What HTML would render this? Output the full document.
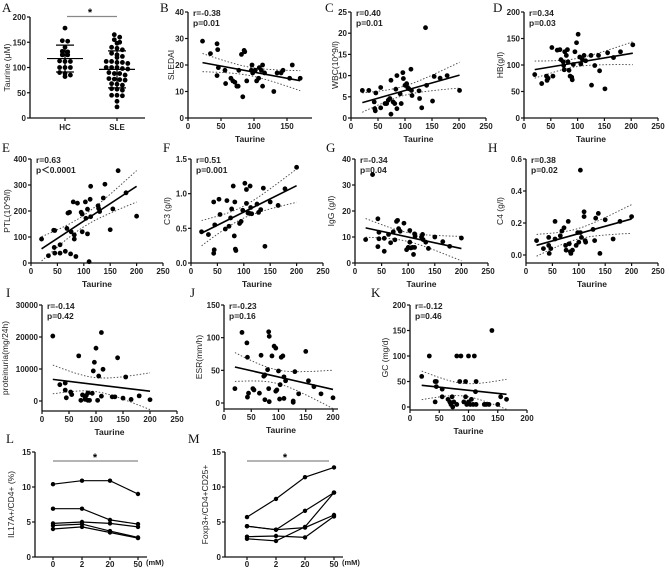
<!DOCTYPE html>
<html><head><meta charset="utf-8">
<style>
html,body{margin:0;padding:0;background:#fff;}
svg{display:block;font-family:"Liberation Sans",Arial,sans-serif;}
.tk{font-size:8px;font-weight:bold;fill:#222;}
.ti{font-size:8.5px;font-weight:bold;fill:#222;}
.yt{font-size:8.5px;fill:#222;}
.lt{font-family:"Liberation Serif",serif;font-size:13px;fill:#111;}
</style></head>
<body>
<svg id="fig" width="669" height="570" viewBox="0 0 669 570"></svg>
<script>
// ---------- data ----------
const hcValues=[178,153,152,140,132,131,125,125,113,112,112,100,100,100,90,88,85,82];
const sleValues=[165,160,155,150,148,140,138,135,128,125,122,120,112,112,110,110,108,100,100,100,98,97,90,88,88,85,78,77,76,75,68,67,65,58,57,55,45,45,44,33,22];
const bX=[22,34,44,45,46,44,56,57,65,68,71,74,76,77,81,85,86,83,89,96,97,98,102,104,107,108,111,113,116,113,130,135,141,144,158,154,170];
const bY=[29,24.3,28,25.8,19,16,18,13,15,14,13.5,12,12,18,24,25.5,25,8,14,18,20,17,18,14,15,19,18,20,17,12,10,17,17,18,20,15,15];
const cX=[21,33,43,44,45,46,55,55,63,66,69,72,74,74,78,81,83,85,85,91,93,96,97,100,103,105,107,111,112,113,126,127,131,138,140,151,154,165,178,201];
const cY=[6.5,6.5,3.8,2.2,1.7,5.9,7.2,2.4,3.4,3.4,4.2,4.6,8.9,0.9,3.8,3.4,6.8,10,2.2,5.7,3.4,10.7,9.3,7.7,8.1,7.2,6.9,11.5,6.5,5.3,6.4,4.6,2.4,21.3,7.7,4,9.8,9.4,10,6.5];
const dX=[20,33,42,43,45,52,54,62,67,69,73,74,75,76,79,81,82,84,86,89,90,92,95,98,101,104,106,109,112,115,125,126,132,139,141,151,156,167,180,203];
const dY=[82,65,79,71,75,133,79,128,129,110,106,99,91,125,118,129,106,90,79,77,72,101,125,142,158,115,102,110,118,108,118,62,99,118,89,55,123,114,125,138];
const eX=[20,33,43,45,44,45,55,55,65,68,70,73,75,76,80,82,82,85,88,95,97,97,103,104,107,107,110,112,113,113,127,128,130,137,140,150,155,165,180,200];
const eY=[92,28,126,125,60,38,70,38,45,133,192,195,35,120,235,108,92,25,230,195,188,120,235,172,112,207,5,245,295,178,220,210,198,250,303,128,208,355,270,180];
const fX=[20,33,43,43,44,45,53,55,65,68,72,75,77,80,82,83,84,85,92,95,98,102,105,105,108,110,112,113,115,125,128,132,137,140,150,165,178,200];
const fY=[0.45,0.41,0.88,0.14,0.19,0.55,0.92,0.7,0.49,0.9,0.53,0.65,0.78,1.11,0.39,0.88,0.2,0.18,0.57,0.6,0.76,1.15,1.06,0.86,0.72,0.72,1.11,0.8,0.71,0.85,0.73,0.77,1.08,0.24,0.88,0.83,1.07,1.38];
const gX=[20,33,43,43,45,45,55,55,63,67,72,75,78,80,82,85,92,97,100,103,103,105,108,110,112,112,113,125,127,128,133,138,150,165,178,200];
const gY=[9,34,6.3,17,9.3,11.8,9.5,4.5,11,7.8,12,8.9,16,16.4,13.2,12.2,15.3,5.1,6,12.5,8,5.8,6,3.3,11.2,6,10.3,10,11,9,8,5.6,10,8.2,6.4,9.6];
const hX=[20,33,43,43,44,47,55,55,65,68,72,75,76,80,82,84,85,88,95,98,100,103,103,105,110,110,112,113,127,130,132,137,140,150,165,178,200];
const hY=[0.09,0.04,0.11,0.06,0.01,0.04,0.21,0.1,0.12,0.15,0.17,0.06,0.03,0.21,0.07,0.02,0.01,0.03,0.06,0.14,0.08,0.53,0.14,0.11,0.27,0.24,0.09,0.08,0.16,0.09,0.23,0.26,0.01,0.22,0.1,0.21,0.24];
const iX=[20,33,43,43,45,53,55,68,72,75,80,80,82,85,85,88,93,95,97,100,103,105,110,110,113,130,135,140,150,155,165,180,200];
const iY=[20300,5100,5600,3400,1000,2800,2000,14100,200,1900,1200,500,1700,200,2500,200,2400,9400,12100,16500,200,7800,21400,1500,9900,1300,1300,13500,900,7500,500,1600,400];
const jX=[20,33,42,43,43,45,53,55,65,68,73,75,75,80,82,82,83,83,88,92,95,95,97,100,102,103,105,108,110,110,113,127,127,130,137,150,155,165,178,200];
const jY=[22,108,92,70,9,15,22,20,15,73,41,5,43,51,22,109,2,102,72,87,18,84,20,49,6,28,70,72,40,7,34,3,1,48,14,79,34,25,14,8];
const kX=[20,33,43,43,45,45,55,55,65,68,70,72,73,75,80,80,85,87,92,95,95,97,100,100,103,105,108,110,112,113,113,127,130,135,140,150,155,165];
const kY=[60,100,10,50,50,40,35,20,15,10,5,20,0,10,100,5,50,100,10,20,50,5,100,10,5,15,5,100,30,50,5,5,5,5,150,5,20,15];
const doseLabels=['0','2','20','50'];
const lSeries=[[10.4,10.9,10.9,9.0],[6.9,6.9,5.3,4.7],[4.8,5.0,4.8,4.3],[4.5,4.7,3.7,2.8],[4.0,4.3,3.5,2.7]];
const mSeries=[[5.7,8.3,11.4,12.8],[4.4,3.9,6.6,9.2],[4.4,3.9,4.2,6.0],[2.9,3.0,2.8,5.8],[2.6,2.3,4.3,9.2]];

// ---------- helpers ----------
const svg=document.getElementById('fig');
const NS='http://www.w3.org/2000/svg';
function mk(tag,attrs,parent,text){const e=document.createElementNS(NS,tag);for(const k in attrs)e.setAttribute(k,attrs[k]);if(text!==undefined)e.textContent=text;(parent||svg).appendChild(e);return e;}
function lin(d0,d1,r0,r1){return v=>r0+(v-d0)*(r1-r0)/(d1-d0);}

function axes(g,p){
  // y axis
  let e=mk('line',{x1:p.px0,y1:p.sy(p.ymax),x2:p.px0,y2:p.pyb,stroke:'#111','stroke-width':1.3},g);
  
  e=mk('line',{x1:p.px0,y1:p.pyb,x2:p.pxEnd,y2:p.pyb,stroke:'#111','stroke-width':1.3},g);
  
  p.yticks.forEach((t,i)=>{const y=p.sy(t);
    mk('line',{x1:p.px0-3,y1:y,x2:p.px0,y2:y,stroke:'#111','stroke-width':1.2},g);
    e=mk('text',{x:p.px0-4,y:y+3,'text-anchor':'end',class:'tk'},g,p.ylabels?p.ylabels[i]:String(t));
    });
  if(p.xticks)p.xticks.forEach(t=>{const x=p.sx(t);
    mk('line',{x1:x,y1:p.pyb,x2:x,y2:p.pyb+3,stroke:'#111','stroke-width':1.2},g);
    e=mk('text',{x:x,y:p.pyb+11,'text-anchor':'middle',class:'tk'},g,String(t));
    });
  const yc=(p.sy(p.ymax)+p.pyb)/2;
  e=mk('text',{x:p.ytx,y:yc,'text-anchor':'middle',class:'yt',transform:`rotate(-90 ${p.ytx} ${yc})`},g,p.ytitle);
  
}
function letter(t,x,y){const e=mk('text',{x:x,y:y,class:'lt'},svg,t);}

function scatter(p,xs,ys){
  const g=mk('g',{});
  p.sx=lin(0,p.xmax,p.px0,p.px1);p.sy=lin(0,p.ymax,p.py0,p.py1);
  axes(g,p);
  let e=mk('text',{x:(p.px0+p.pxEnd)/2,y:p.pyb+24,'text-anchor':'middle',class:'ti'},g,'Taurine');
  
  e=mk('text',{x:p.px0+5,y:p.sy(p.ymax)+4,class:'ti'},g,p.r);
  e=mk('text',{x:p.px0+5,y:p.sy(p.ymax)+14,class:'ti'},g,p.p);
  // regression
  const n=xs.length;let mx=0,my=0;for(let i=0;i<n;i++){mx+=xs[i];my+=ys[i];}mx/=n;my/=n;
  let sxx=0,sxy=0;for(let i=0;i<n;i++){sxx+=(xs[i]-mx)**2;sxy+=(xs[i]-mx)*(ys[i]-my);}
  const b=sxy/sxx,a=my-b*mx;let sse=0;for(let i=0;i<n;i++)sse+=(ys[i]-a-b*xs[i])**2;
  const s=Math.sqrt(sse/(n-2)),t=2.03;
  const xmin=Math.min(...xs),xmx=Math.max(...xs);
  let up=[],lo=[];
  for(let k=0;k<=30;k++){const x=xmin+(xmx-xmin)*k/30;const se=s*Math.sqrt(1/n+(x-mx)**2/sxx);const yh=a+b*x;
    up.push(p.sx(x).toFixed(1)+','+p.sy(yh+t*se).toFixed(1));lo.push(p.sx(x).toFixed(1)+','+p.sy(yh-t*se).toFixed(1));}
  const clip='c'+p.id;const cp=mk('clipPath',{id:clip},g);mk('rect',{x:p.px0,y:p.sy(p.ymax)-2,width:p.pxEnd-p.px0+4,height:p.pyb-p.sy(p.ymax)+2},cp);
  e=mk('polyline',{points:up.join(' '),fill:'none',stroke:'#444','stroke-width':0.9,'stroke-dasharray':'1.5,1.8','clip-path':`url(#${clip})`},g);
  
  e=mk('polyline',{points:lo.join(' '),fill:'none',stroke:'#444','stroke-width':0.9,'stroke-dasharray':'1.5,1.8','clip-path':`url(#${clip})`},g);
  
  for(let i=0;i<n;i++){e=mk('circle',{cx:p.sx(xs[i]),cy:p.sy(ys[i]),r:2.4,fill:'#000'},g);
    }
  e=mk('line',{x1:p.sx(xmin),y1:p.sy(a+b*xmin),x2:p.sx(xmx),y2:p.sy(a+b*xmx),stroke:'#000','stroke-width':1.6},g);
  
}

// ---------- panel A ----------
(function(){
  const g=mk('g',{});
  const p={px0:30,pxEnd:145,pyb:118,ymax:200,yticks:[0,50,100,150,200],ytx:10,ytitle:'Taurine (μM)'};
  p.sy=lin(0,200,118,17);
  axes(g,p);
  const groups=[['HC',hcValues,65],['SLE',sleValues,117]];
  groups.forEach(([name,vals,cx])=>{
    let e=mk('line',{x1:cx,y1:118,x2:cx,y2:121,stroke:'#111','stroke-width':1.2},g);
    e=mk('text',{x:cx,y:130,'text-anchor':'middle',class:'tk'},g,name);
    const sorted=[...vals].sort((a,b)=>b-a);const bins=[];
    sorted.forEach(v=>{const last=bins[bins.length-1];if(last&&last[0]-v<7)last.push(v);else bins.push([v]);});
    bins.forEach(bin=>{bin.forEach((v,i)=>{const off=(i-(bin.length-1)/2)*5.4;
      e=mk('circle',{cx:cx+off,cy:p.sy(v),r:2.4,fill:'#000'},g);});});
    const n=vals.length,m=vals.reduce((s,v)=>s+v,0)/n,sd=Math.sqrt(vals.reduce((s,v)=>s+(v-m)**2,0)/(n-1));
    e=mk('line',{x1:cx-18,y1:p.sy(m),x2:cx+18,y2:p.sy(m),stroke:'#000','stroke-width':1.2},g);
    e=mk('line',{x1:cx,y1:p.sy(m+sd),x2:cx,y2:p.sy(m-sd),stroke:'#000','stroke-width':1.2},g);
    mk('line',{x1:cx-9,y1:p.sy(m+sd),x2:cx+9,y2:p.sy(m+sd),stroke:'#000','stroke-width':1.2},g);
    mk('line',{x1:cx-9,y1:p.sy(m-sd),x2:cx+9,y2:p.sy(m-sd),stroke:'#000','stroke-width':1.2},g);
  });
  let e=mk('line',{x1:67,y1:16.5,x2:117,y2:16.5,stroke:'#888','stroke-width':1.2},g);
  e=mk('text',{x:90,y:16,'text-anchor':'middle',style:'font-size:11px;font-weight:bold'},g,'*');
})();

// ---------- scatter panels ----------
const y1=[12,118],y2=[159,263];
scatter({id:'b',px0:188,px1:287,xmax:150,pxEnd:312,py0:118,py1:12,pyb:118,ymax:40,xticks:[0,50,100,150],yticks:[0,10,20,30,40],ytx:174,ytitle:'SLEDAI',r:'r=-0.38',p:'p=0.01'},bX,bY);
scatter({id:'c',px0:351,px1:486,xmax:250,pxEnd:486,py0:118,py1:12,pyb:118,ymax:25,xticks:[0,50,100,150,200,250],yticks:[0,5,10,15,20,25],ytx:338,ytitle:'WBC(10^9/l)',r:'r=0.40',p:'p=0.01'},cX,cY);
scatter({id:'d',px0:524,px1:658,xmax:250,pxEnd:658,py0:118,py1:12,pyb:118,ymax:200,xticks:[0,50,100,150,200,250],yticks:[0,50,100,150,200],ytx:503,ytitle:'HB(g/l)',r:'r=0.34',p:'p=0.03'},dX,dY);
scatter({id:'e',px0:31,px1:163,xmax:250,pxEnd:163,py0:263,py1:159,pyb:263,ymax:400,xticks:[0,50,100,150,200,250],yticks:[0,100,200,300,400],ytx:10,ytitle:'PTL(10^9/l)',r:'r=0.63',p:'p＜0.0001'},eX,eY);
scatter({id:'f',px0:191,px1:323,xmax:250,pxEnd:323,py0:263,py1:159,pyb:263,ymax:1.5,xticks:[0,50,100,150,200,250],yticks:[0,0.5,1,1.5],ylabels:['0.0','0.5','1.0','1.5'],ytx:170,ytitle:'C3 (g/l)',r:'r=0.51',p:'p=0.001'},fX,fY);
scatter({id:'g',px0:355,px1:488,xmax:250,pxEnd:488,py0:263,py1:159,pyb:263,ymax:40,xticks:[0,50,100,150,200,250],yticks:[0,10,20,30,40],ytx:334,ytitle:'IgG (g/l)',r:'r=-0.34',p:'p=0.04'},gX,gY);
scatter({id:'h',px0:526,px1:658,xmax:250,pxEnd:658,py0:255,py1:159,pyb:263,ymax:0.6,xticks:[0,50,100,150,200,250],yticks:[0,0.2,0.4,0.6],ylabels:['0.0','0.2','0.4','0.6'],ytx:503,ytitle:'C4 (g/l)',r:'r=0.38',p:'p=0.02'},hX,hY);
scatter({id:'i',px0:42,px1:177,xmax:250,pxEnd:177,py0:401,py1:305,pyb:411,ymax:30000,xticks:[0,50,100,150,200,250],yticks:[0,10000,20000,30000],ytx:8,ytitle:'proteinuria(mg/24h)',r:'r=-0.14',p:'p=0.42'},iX,iY);
scatter({id:'j',px0:224,px1:333,xmax:200,pxEnd:338,py0:403,py1:305,pyb:409,ymax:150,xticks:[0,50,100,150,200],yticks:[0,50,100,150],ytx:202,ytitle:'ESR(mm/h)',r:'r=-0.23',p:'p=0.16'},jX,jY);
scatter({id:'k',px0:410,px1:527,xmax:200,pxEnd:527,py0:407,py1:305,pyb:410,ymax:200,xticks:[0,50,100,150,200],yticks:[0,50,100,150,200],ytx:388,ytitle:'GC (mg/d)',r:'r=-0.12',p:'p=0.46'},kX,kY);

// ---------- line panels ----------
function linePanel(id,px0,cats,pxEnd,series,title,ytx,star,sig){
  const g=mk('g',{});
  const p={px0:px0,pxEnd:pxEnd,pyb:557,ymax:15,yticks:[0,5,10,15],ytx:ytx,ytitle:title};
  p.sy=lin(0,15,557,452);
  axes(g,p);
  doseLabels.forEach((d,i)=>{let e=mk('line',{x1:cats[i],y1:557,x2:cats[i],y2:560,stroke:'#111','stroke-width':1.2},g);
    e=mk('text',{x:cats[i],y:567,'text-anchor':'middle',class:'tk'},g,d);});
  let e=mk('text',{x:cats[3]+8,y:565,class:'tk',style:'font-size:7.5px'},g,'(mM)');
  series.forEach(s=>{
    e=mk('polyline',{points:s.map((v,i)=>cats[i]+','+p.sy(v)).join(' '),fill:'none',stroke:'#000','stroke-width':1.2},g);
    
    s.forEach((v,i)=>{e=mk('circle',{cx:cats[i],cy:p.sy(v),r:2.2,fill:'#000'},g);});
  });
  e=mk('line',{x1:cats[0],y1:461,x2:sig,y2:461,stroke:'#888','stroke-width':1.2},g);
  e=mk('text',{x:star,y:461,'text-anchor':'middle',style:'font-size:11px;font-weight:bold'},g,'*');
}
linePanel('l',35,[53,82,110,138],147,lSeries,'IL17A+/CD4+ (%)',14,95,138);
linePanel('m',225,[247,276,305,334],343,mSeries,'Foxp3+/CD4+CD25+',208,285,329);

// ---------- letters ----------
letter('A',2,12);letter('B',160,12);letter('C',325,12);letter('D',493,12);
letter('E',2,152);letter('F',163,152);letter('G',326,152);letter('H',488,152);
letter('I',6,297);letter('J',190,297);letter('K',371,297);
letter('L',6,443);letter('M',188,443);
</script>
</body></html>
